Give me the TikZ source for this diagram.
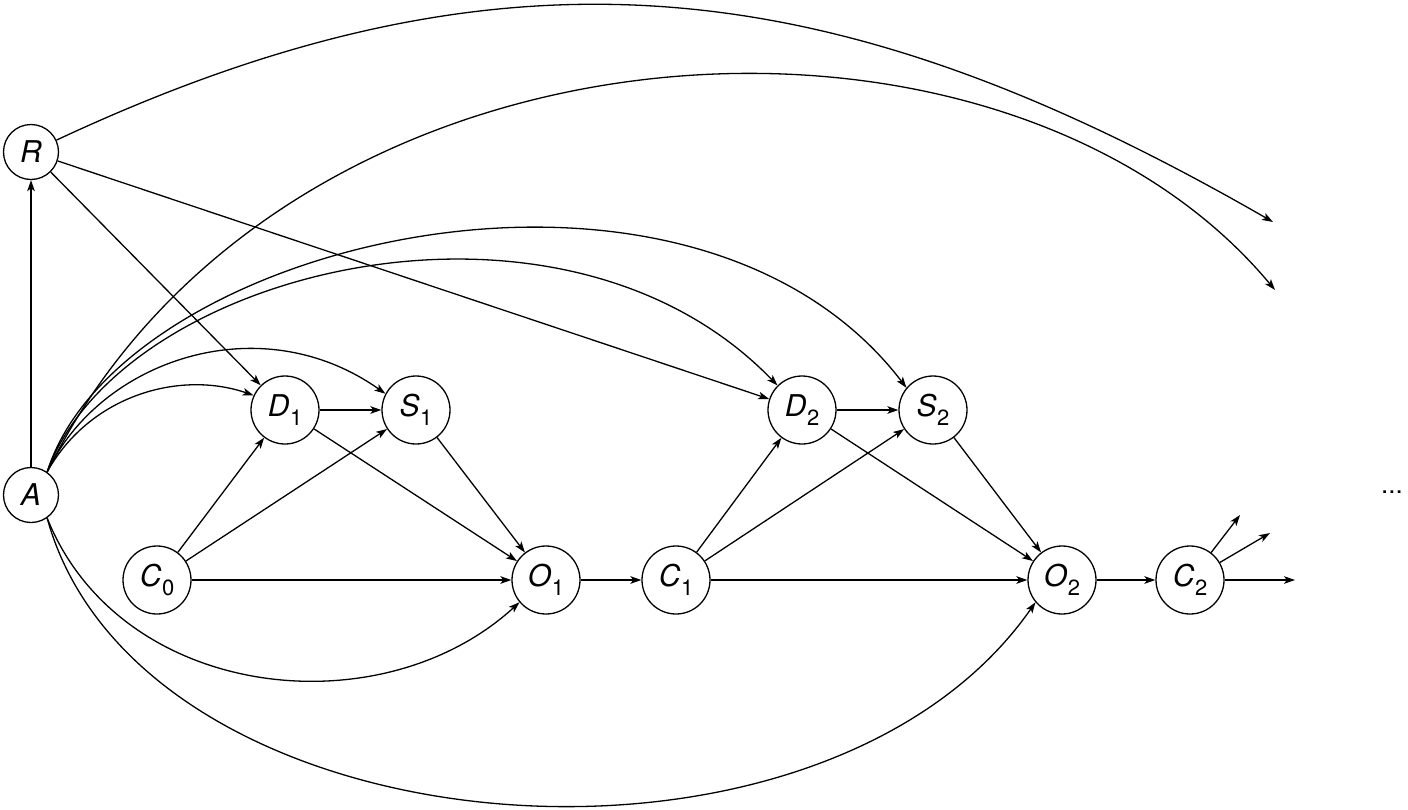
\documentclass[tikz,border=0pt]{standalone}
\usepackage{fontspec}
\setmainfont{TeX Gyre Heros}
\usetikzlibrary{arrows.meta}
\newcommand{\nlab}[2]{\textit{#1}\kern0.3pt\raisebox{-4.5pt}{\fontsize{11}{13}\selectfont #2}}
\tikzset{
  big/.style={circle,draw,line width=0.65pt,minimum size=34pt,inner sep=0pt,font=\fontsize{15}{17}\selectfont},
  small/.style={circle,draw,line width=0.65pt,minimum size=27.5pt,inner sep=0pt,font=\fontsize{15}{17}\selectfont},
  arr/.style={line width=0.65pt,-{Stealth[length=5.5pt,width=3.8pt,inset=1.4pt]}},
}
\begin{document}
\begin{tikzpicture}[x=0.5pt,y=-0.5pt]
\useasboundingbox (0,0) rectangle (1408,809);
\node[small] (R) at (31,152) {\textit{R}};
\node[small] (A) at (31,495) {\textit{A}};
\node[big] (D1) at (285,410) {\nlab{D}{1}};
\node[big] (S1) at (416,410) {\nlab{S}{1}};
\node[big] (C0) at (157,580) {\nlab{C}{0}};
\node[big] (O1) at (546,580) {\nlab{O}{1}};
\node[big] (C1) at (676,580) {\nlab{C}{1}};
\node[big] (D2) at (802,410) {\nlab{D}{2}};
\node[big] (S2) at (933,410) {\nlab{S}{2}};
\node[big] (O2) at (1062,580) {\nlab{O}{2}};
\node[big] (C2) at (1190,580) {\nlab{C}{2}};
\node[font=\fontsize{13}{15}\selectfont] (dots) at (1392,492) {...};
\coordinate (f1) at (1273,222);
\coordinate (f2) at (1275,290);
\coordinate (e1) at (1240,515);
\coordinate (e2) at (1270,533);
\coordinate (e3) at (1295,580);
% straight edges
\draw[arr] (A) -- (R);
\draw[arr] (R) -- (D1);
\draw[arr] (R) -- (D2);
\draw[arr] (C0) -- (D1);
\draw[arr] (C0) -- (S1);
\draw[arr] (C0) -- (O1);
\draw[arr] (D1) -- (S1);
\draw[arr] (D1) -- (O1);
\draw[arr] (S1) -- (O1);
\draw[arr] (O1) -- (C1);
\draw[arr] (C1) -- (D2);
\draw[arr] (C1) -- (S2);
\draw[arr] (C1) -- (O2);
\draw[arr] (D2) -- (S2);
\draw[arr] (D2) -- (O2);
\draw[arr] (S2) -- (O2);
\draw[arr] (O2) -- (C2);
\draw[arr] (C2) -- (e1);
\draw[arr] (C2) -- (e2);
\draw[arr] (C2) -- (e3);
% curves
\draw[arr] (R.25) .. controls (510,-72) and (839,-28) .. (f1);
\draw[arr] (A.55) .. controls (280,0) and (1000,-40) .. (f2);
\draw[arr] (A.55) .. controls (90,395) and (180,370) .. (D1.155);
\draw[arr] (A.55) .. controls (100,360) and (260,305) .. (S1.152);
\draw[arr] (A.55) .. controls (120,270) and (560,160) .. (D2.135);
\draw[arr] (A.55) .. controls (120,240) and (690,105) .. (S2.140);
\draw[arr] (A.-55) .. controls (120,700) and (380,730) .. (O1.-140);
\draw[arr] (A.-55) .. controls (140,855) and (820,912) .. (O2.-140);
\end{tikzpicture}
\end{document}
